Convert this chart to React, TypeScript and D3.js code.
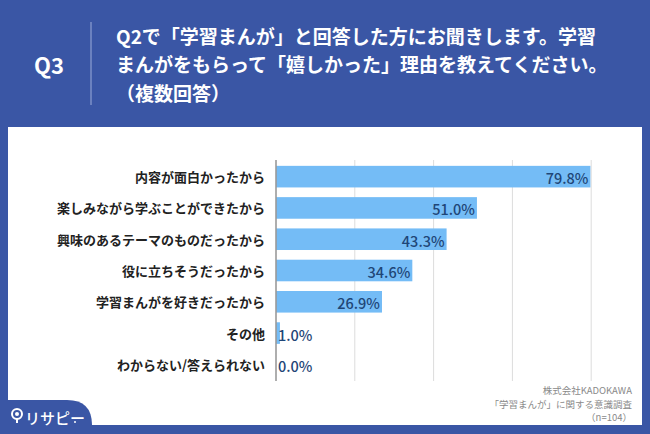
import React from "react";
import * as d3 from "d3";

const categories = [
  "内容が面白かったから",
  "楽しみながら学ぶことができたから",
  "興味のあるテーマのものだったから",
  "役に立ちそうだったから",
  "学習まんがを好きだったから",
  "その他",
  "わからない/答えられない",
];
const values = [79.8, 51.0, 43.3, 34.6, 26.9, 1.0, 0.0];
const gridTicks = [20, 40, 60, 80];
const titleLines = [
  "Q2で「学習まんが」と回答した方にお聞きします。学習",
  "まんがをもらって「嬉しかった」理由を教えてください。",
  "（複数回答）",
];
const footLines = ["株式会社KADOKAWA", "「学習まんが」に関する意識調査", "（n=104）"];

const W = 650;
const H = 434;
const BG = "#3A56A5";
const JP = "'Noto Sans CJK JP', 'Noto Sans', sans-serif";

export default function App() {
  const x = d3.scaleLinear().domain([0, 100]).range([276, 670]);
  const y = d3
    .scaleBand<string>()
    .domain(categories)
    .range([161, 380])
    .paddingInner(0.31)
    .paddingOuter(0.155);

  return (
    <div style={{ position: "fixed", left: 0, top: 0, width: W, height: H }}>
      <svg width={W} height={H} style={{ display: "block" }}>
        <rect x={0} y={0} width={W} height={H} fill={BG} />
        {/* header */}
        <text x={49} y={64} fill="#fff" fontFamily={JP} fontWeight={700} fontSize={22} textAnchor="middle" dominantBaseline="central">
          Q3
        </text>
        <line x1={91} x2={91} y1={22} y2={105} stroke="#8d9fd0" strokeWidth={1.2} />
        {titleLines.map((t, i) => (
          <text key={i} x={116} y={35 + i * 28.5} fill="#fff" fontFamily={JP} fontWeight={700} fontSize={19} dominantBaseline="central">
            {t}
          </text>
        ))}
        {/* white panel */}
        <rect x={8} y={127} width={634} height={298} fill="#fff" />
        {/* gridlines */}
        {gridTicks.map((t) => (
          <line key={t} x1={x(t)} x2={x(t)} y1={160} y2={381} stroke="#dcdcdc" strokeWidth={1} />
        ))}
        {/* bars */}
        {categories.map((c, i) => (
          <rect key={c} x={x(0)} y={y(c)} width={x(values[i]) - x(0)} height={y.bandwidth()} fill="#74BCF6" />
        ))}
        <line x1={x(0)} x2={x(0)} y1={160} y2={381} stroke="#9a9a9a" strokeWidth={1.6} />
        {/* category labels */}
        {categories.map((c) => (
          <text key={c} x={265} y={(y(c) as number) + y.bandwidth() / 2} fill="#222" fontFamily={JP} fontWeight={700} fontSize={13} textAnchor="end" dominantBaseline="central">
            {c}
          </text>
        ))}
        {/* value labels */}
        {categories.map((c, i) => {
          const v = values[i];
          const inside = v > 10;
          return (
            <text
              key={c}
              x={inside ? x(v) - 2 : x(0) + 2}
              y={(y(c) as number) + y.bandwidth() / 2 + 1}
              fill="#1F4677"
              fontFamily={JP}
              fontWeight={500}
              fontSize={14.5}
              textAnchor={inside ? "end" : "start"}
              dominantBaseline="central"
            >
              {v.toFixed(1) + "%"}
            </text>
          );
        })}
        {/* footnote */}
        {footLines.map((t, i) => (
          <text key={i} x={632} y={390 + i * 13.5} fill="#8a8a8a" fontFamily={JP} fontSize={9.5} textAnchor="end" dominantBaseline="central">
            {t}
          </text>
        ))}
        {/* logo tab */}
        <path d="M0,400 L67,400 Q92,400 92,425 L92,434 L0,434 Z" fill={BG} />
        <circle cx={17} cy={414} r={5} fill="none" stroke="#fff" strokeWidth={2} />
        <circle cx={17} cy={414} r={2} fill="#fff" />
        <line x1={17} x2={17} y1={419} y2={423} stroke="#fff" strokeWidth={2} />
        <text x={25} y={417} fill="#fff" fontFamily={JP} fontWeight={500} fontSize={15} dominantBaseline="central">
          リサピー
        </text>
        <circle cx={75} cy={422} r={1} fill="#fff" />
      </svg>
    </div>
  );
}
